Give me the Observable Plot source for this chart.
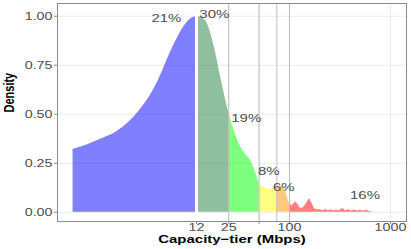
<!DOCTYPE html>
<html>
<head>
<meta charset="utf-8">
<script src="https://cdn.jsdelivr.net/npm/d3@7"></script>
<script src="https://cdn.jsdelivr.net/npm/@observablehq/plot@0.6"></script>
<style>
  html, body { margin: 0; padding: 0; background: #fff; }
  #chart svg { display: block; }
</style>
</head>
<body>
<div id="chart"></div>
<script>
// Density curve (capacity in Mbps, density scaled to max 1)
const capacity = [0.72, 1.0, 1.35, 1.97, 3.22, 4.37, 5.28, 6.64, 8.34, 10.07, 12,
  14.7, 16.5, 18.5, 20.7, 23.2, 25,
  30.3, 35.3, 41.1, 46.1, 50,
  55.3, 64.9, 75,
  81.5, 91.3, 100,
  106.3, 114.7, 121.9, 128.5, 138.6, 149.7, 157.8, 167.8, 178.2, 188.1,
  202.7, 218.7, 227, 243, 255, 273, 292, 306, 327, 342, 358, 384, 411,
  440, 472, 505, 540, 579, 620, 664];
const density = [0.32, 0.345, 0.373, 0.412, 0.514, 0.612, 0.697, 0.816, 0.918, 0.978, 1.0,
  0.978, 0.918, 0.816, 0.697, 0.579, 0.51,
  0.374, 0.306, 0.264, 0.204, 0.146,
  0.128, 0.116, 0.131,
  0.131, 0.105, 0.04,
  0.034, 0.051, 0.038, 0.020, 0.026, 0.051, 0.068, 0.043, 0.017, 0.014,
  0.012, 0.008, 0.014, 0.008, 0.013, 0.007, 0.012, 0.008, 0.016, 0.018, 0.008, 0.013, 0.007,
  0.012, 0.006, 0.011, 0.005, 0.010, 0.004, 0.002];

// Tier boundaries and names
const tierBreaks = [12, 25, 50, 75, 100];
const tierNames = ["<12", "12-25", "25-50", "50-75", "75-100", ">100"];
const tierColors = ["#0000ff", "#1f7f3f", "#00ff00", "#ffff00", "#ff9100", "#ff0000"];

// Share labels
const shareText = ["21%", "30%", "19%", "8%", "6%", "16%"];
const shareX = [6.05, 18.0, 37.3, 62.4, 87.8, 559];
const shareY = [0.988, 1.012, 0.477, 0.209, 0.128, 0.089];

// Axis ticks
const xTicks = [12, 25, 50, 100, 1000];
const yTicks = [0, 0.25, 0.5, 0.75, 1];

// Build rows; boundary points belong to both neighbouring tiers
const rows = [];
capacity.forEach((c, i) => {
  const lo = tierBreaks.filter(b => b < c).length;
  rows.push({capacity: c, density: density[i], tier: tierNames[lo]});
  if (tierBreaks.includes(c)) rows.push({capacity: c, density: density[i], tier: tierNames[lo + 1]});
});
const labels = shareText.map((t, i) => ({t, x: shareX[i], y: shareY[i]}));

const chart = Plot.plot({
  width: 411,
  height: 249,
  marginLeft: 57,
  marginRight: 5,
  marginTop: 3,
  marginBottom: 28,
  style: {fontFamily: "'Liberation Sans', Arial, sans-serif", fontSize: "11px", background: "#fff"},
  x: {type: "log", domain: [0.505, 1440]},
  y: {domain: [-0.047, 1.065]},
  color: {domain: tierNames, range: tierColors},
  marks: [
    Plot.gridY(yTicks, {stroke: "#ebebeb", strokeOpacity: 1}),
    Plot.gridX(xTicks, {stroke: "#ebebeb", strokeOpacity: 1}),
    Plot.areaY(rows, {x: "capacity", y1: 0, y2: "density", z: "tier", fill: "tier", fillOpacity: 0.5, curve: "monotone-x"}),
    Plot.ruleX([25, 50, 75, 100], {stroke: "#bebebe", strokeWidth: 1}),
    Plot.ruleX([12], {stroke: "#fff", strokeWidth: 3}),
    Plot.text(labels, {x: "x", y: "y", text: "t", fill: "#4d4d4d", fontSize: 11.5}),
    Plot.frame({stroke: "#8a8a8a"}),
    Plot.axisX({ticks: xTicks, tickSize: 3, tickPadding: -1, fill: "#4d4d4d", stroke: "#8a8a8a", fontSize: 11, label: null, tickFormat: d => String(d)}),
    Plot.axisY({ticks: yTicks, tickSize: 3, tickPadding: 2, fill: "#4d4d4d", stroke: "#8a8a8a", fontSize: 11, label: null, tickFormat: d3.format(".2f")}),
    Plot.text(["Capacity\u2212tier (Mbps)"], {frameAnchor: "bottom", dy: 21, fontWeight: "bold", fontSize: 11.5, fill: "#000"}),
    Plot.text(["Density"], {frameAnchor: "left", dx: -48, rotate: -90, fontWeight: "bold", fontSize: 11, fill: "#000"})
  ]
});
document.getElementById("chart").appendChild(chart);

// The reference's texts are drawn wide: stretch their glyphs horizontally
chart.querySelectorAll("text").forEach(t => {
  if (t.textContent === "Density") {
    t.setAttribute("transform", (t.getAttribute("transform") || "") + " scale(1,1.3)");
    return;
  }
  const w = t.getComputedTextLength();
  if (w > 0) {
    t.setAttribute("textLength", (w * 1.3).toFixed(1));
    t.setAttribute("lengthAdjust", "spacingAndGlyphs");
  }
});
</script>
</body>
</html>
